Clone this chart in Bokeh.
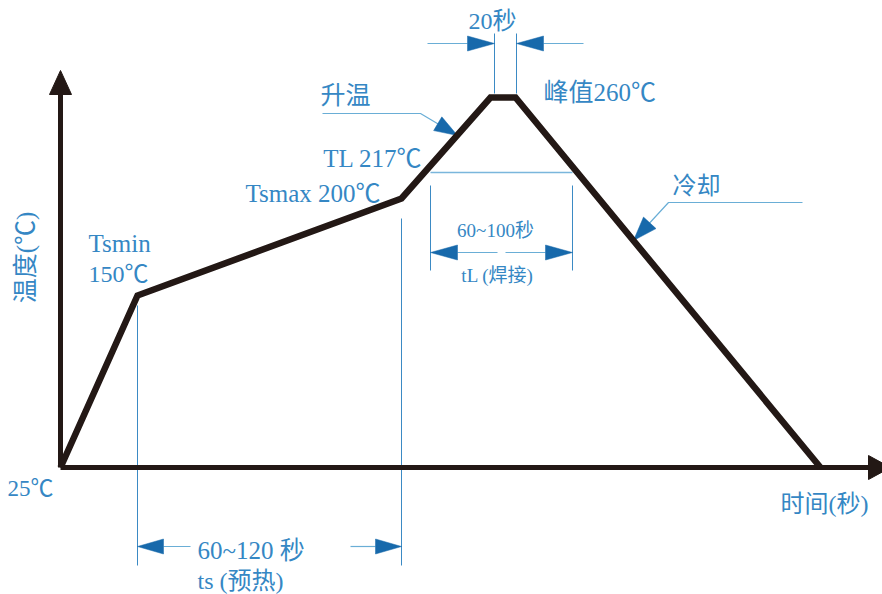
import math
from bokeh.plotting import figure
from bokeh.models import Range1d, Label
from bokeh.embed import file_html
from bokeh.resources import INLINE

# ---- Reflow profile (schematic diagram units: time to the right, temperature up) ----
profile_t = [0, 77, 341, 430, 455, 760]      # start, Tsmin, Tsmax, peak start, peak end, cool end
profile_T = [0, 172, 269, 370, 370, 0]
tl_level = 295                                # TL 217℃ level
tl_window = [370, 512]                        # tL (焊接) 60~100秒 window
peak_window = [434, 456]                      # 20秒 at peak
temp_labels = ["25℃", "150℃", "200℃", "217℃", "260℃"]

BLACK = "#231815"
TXT = "#3587c4"
HEAD = "#1769ab"
THIN = "#6aaed6"
DIM = "#3b8ac4"
FONT = "Liberation Serif, Noto Sans CJK SC"

p = figure(width=882, height=594, x_range=Range1d(-60, 822), y_range=Range1d(-127, 467),
           output_backend="svg", toolbar_location=None, x_axis_location=None,
           y_axis_location=None, min_border=0, outline_line_color=None)
p.xgrid.visible = False
p.ygrid.visible = False
p.background_fill_color = "white"


def head(tip, frm, length, width):
    tx, ty = tip
    fx, fy = frm
    dx, dy = tx - fx, ty - fy
    n = math.hypot(dx, dy)
    ux, uy = dx / n, dy / n
    bx, by = tx - ux * length, ty - uy * length
    px, py = -uy * width / 2, ux * width / 2
    return [tx, bx + px, bx - px], [ty, by + py, by - py]


# ---- thin dimension lines ----
tsmin_x, tsmax_x = profile_t[1], profile_t[2]
p.multi_line(xs=[[tsmin_x, tsmin_x], [tsmax_x, tsmax_x]],
             ys=[[profile_T[1] - 10, -98], [profile_T[2] - 20, -98]],
             line_color=DIM, line_width=1)
p.multi_line(xs=[[tl_window[0], tl_window[0]], [tl_window[1], tl_window[1]],
                 [peak_window[0], peak_window[0]], [peak_window[1], peak_window[1]]],
             ys=[[282, 197], [282, 197], [profile_T[3] + 4, 434], [profile_T[3] + 4, 434]],
             line_color=DIM, line_width=1)
p.line(x=tl_window, y=[tl_level, tl_level], line_color="#7ab6dc", line_width=1.6)

# arrow shafts
p.multi_line(xs=[[tsmin_x + 26, 130], [290, tsmax_x - 26],
                 [tl_window[0] + 27, 437], [445, tl_window[1] - 27],
                 [367, peak_window[0] - 27], [peak_window[1] + 27, 523]],
             ys=[[-79, -79], [-79, -79], [215, 215], [215, 215], [424, 424], [424, 424]],
             line_color=THIN, line_width=1.2)
# leaders
p.multi_line(xs=[[262, 360, 397], [742, 608, 573]],
             ys=[[354, 354, 332], [265, 265, 227]],
             line_color=THIN, line_width=1.2)

heads = [
    head((tsmin_x, -79), (tsmin_x + 30, -79), 26, 15),
    head((tsmax_x, -79), (tsmax_x - 30, -79), 26, 15),
    head((tl_window[0], 215), (tl_window[0] + 30, 215), 27, 15),
    head((tl_window[1], 215), (tl_window[1] - 30, 215), 27, 15),
    head((peak_window[0], 424), (peak_window[0] - 30, 424), 27, 15),
    head((peak_window[1], 424), (peak_window[1] + 30, 424), 27, 15),
    head((397, 332), (360, 354), 23, 16),
    head((573, 227), (608, 265), 24, 17),
]
p.patches(xs=[h[0] for h in heads], ys=[h[1] for h in heads],
          fill_color=HEAD, line_color=HEAD, line_width=0.5)

# ---- axes ----
p.line(x=[0, 0], y=[0, 374], line_color=BLACK, line_width=5)
p.line(x=[0, 808], y=[0, 0], line_color=BLACK, line_width=5)
ax = [head((0, 397), (0, 0), 24, 22), head((830, 0), (0, 0), 22, 24)]
p.patches(xs=[h[0] for h in ax], ys=[h[1] for h in ax], fill_color=BLACK, line_color=BLACK)

# ---- profile ----
p.line(x=profile_t, y=profile_T, line_color=BLACK, line_width=6.5, line_join="miter")


def lab(x, y, text, size, align="left", angle=0):
    p.add_layout(Label(x=x, y=y, text=text, text_font=FONT, text_font_size=f"{size}px",
                       text_color=TXT, text_align=align, text_baseline="middle",
                       angle=angle))


lab(432, 447, "20秒", 24, "center")
lab(483, 375, "峰值" + temp_labels[4], 25)
lab(260, 372, "升温", 25)
lab(362, 309, "TL " + temp_labels[3], 25, "right")
lab(320, 274, "Tsmax " + temp_labels[2], 25, "right")
lab(28, 224, "Tsmin", 25)
lab(28, 194, temp_labels[1], 24)
lab(612, 282, "冷却", 24)
lab(435, 237, "60~100秒", 19, "center")
lab(437, 192, "tL (焊接)", 19, "center")
lab(-35, 210, "温度(℃)", 25, "center", math.pi / 2)
lab(-53, -21, temp_labels[0], 23)
lab(808, -36, "时间(秒)", 24, "right")
lab(137, -83, "60~120 秒", 25)
lab(137, -113, "ts (预热)", 24)

open("out.html", "w").write(file_html(p, INLINE))
